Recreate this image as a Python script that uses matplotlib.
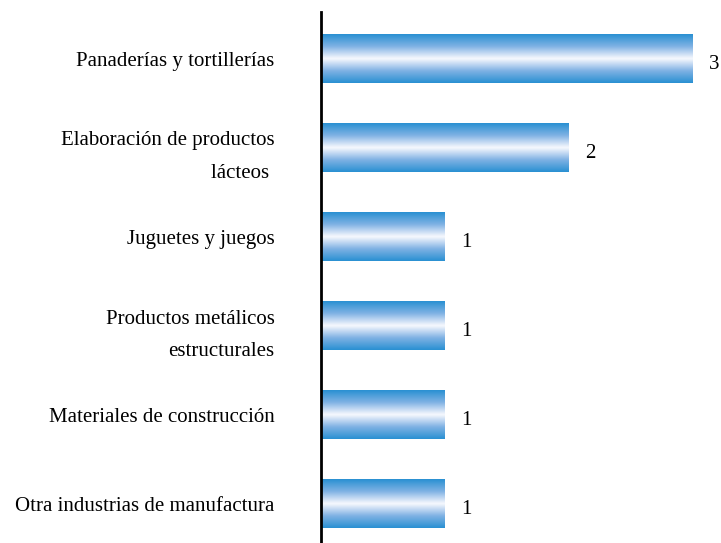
import numpy as np
import matplotlib.pyplot as plt
from matplotlib.colors import LinearSegmentedColormap

# datos
categorias = ['Panaderías y tortillerías',
              'Elaboración de productos\nlácteos ',
              'Juguetes y juegos',
              'Productos metálicos\nestructurales',
              'Materiales de construcción',
              'Otra industrias de manufactura']
valores = [3, 2, 1, 1, 1, 1]

plt.rcParams['font.family'] = ['Liberation Serif', 'DejaVu Serif']

fig = plt.figure(figsize=(7.21, 5.43), dpi=100)
ax = fig.add_axes([321 / 721, 0, 400 / 721, 531 / 543])

# degradado azul-blanco-azul
cmap = LinearSegmentedColormap.from_list('barra', [
    (0.0, '#2990d2'), (0.25, '#7fb2e4'), (0.42, '#d2e2f6'),
    (0.5, '#f7f9fe'), (0.58, '#d2e2f6'), (0.75, '#7fb2e4'), (1.0, '#2990d2')])
grad = np.linspace(0, 1, 256).reshape(-1, 1)

pos = np.arange(len(categorias))
barras = ax.barh(pos, valores, height=0.54, color='none', edgecolor='none')
for b, v in zip(barras, valores):
    x0, y0 = b.get_x(), b.get_y()
    ax.imshow(grad, extent=[x0, x0 + b.get_width(), y0, y0 + b.get_height()],
              aspect='auto', cmap=cmap, interpolation='bicubic', zorder=2)
    ax.text(v + 0.13, b.get_y() + b.get_height() / 2 + 0.06, str(v),
            va='center', ha='left', fontsize=15)

ax.set_xlim(0, 3.23)
ax.set_ylim(5.438, -0.528)
ax.set_yticks(pos)
ax.set_yticklabels(categorias, fontsize=15, linespacing=1.95)
ax.tick_params(axis='y', length=0, pad=33.5)
ax.set_xticks([])
for s in ['top', 'right', 'bottom']:
    ax.spines[s].set_visible(False)
ax.spines['left'].set_linewidth(2)
ax.spines['left'].set_color('black')

fig.savefig('out.png', dpi=100)
